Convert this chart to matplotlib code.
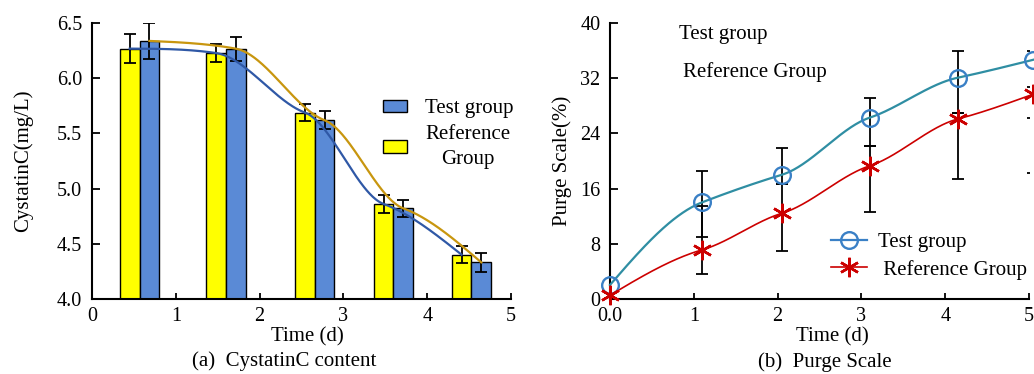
import numpy as np
import matplotlib
matplotlib.use("Agg")
import matplotlib.pyplot as plt
from matplotlib.lines import Line2D
from matplotlib.patches import Patch

plt.rcParams["font.family"] = ["Liberation Serif", "DejaVu Serif"]

# ---------------- (a) CystatinC content ----------------
ref_x = [0.45, 1.48, 2.54, 3.48, 4.41]          # reference-group bar centres (d)
test_x = [0.685, 1.715, 2.775, 3.715, 4.645]    # test-group bar centres (d)
ref_cys = [6.27, 6.23, 5.69, 4.86, 4.40]
ref_cys_err = [0.13, 0.08, 0.08, 0.08, 0.08]
test_cys = [6.34, 6.27, 5.62, 4.82, 4.33]
test_cys_err = [0.16, 0.11, 0.08, 0.08, 0.085]

# ---------------- (b) Purge Scale ----------------
days = [0.0, 1.1, 2.05, 3.1, 4.15, 5.05]
test_purge = [2.0, 14.0, 18.0, 26.3, 32.1, 34.7]
test_err_lo = [0.0, 5.1, 1.34, 4.1, 5.1, 8.4]
test_err_hi = [0.0, 4.5, 3.85, 2.8, 3.9, 1.3]
ref_purge = [0.5, 7.1, 12.4, 19.3, 26.1, 29.7]
ref_err_lo = [0.0, 3.5, 5.47, 6.7, 8.7, 11.4]
ref_err_hi = [0.0, 6.3, 4.26, 2.9, 0.9, 1.0]

x_ticks = [0, 1, 2, 3, 4, 5]


def smooth(x, y, k, n=80):
    """Cubic Hermite curve through (x, y) with damped finite-difference tangents."""
    x = np.asarray(x, float)
    y = np.asarray(y, float)
    s = np.diff(y) / np.diff(x)
    m = np.empty_like(y)
    m[1:-1] = k * (y[2:] - y[:-2]) / (x[2:] - x[:-2])
    m[0] = 1.5 * s[0] - 0.5 * m[1]
    m[-1] = 1.5 * s[-1] - 0.5 * m[-2]
    xs, ys = [], []
    for i in range(len(x) - 1):
        h = x[i + 1] - x[i]
        t = np.linspace(0, 1, n, endpoint=(i == len(x) - 2))
        h00 = 2 * t**3 - 3 * t**2 + 1
        h10 = t**3 - 2 * t**2 + t
        h01 = -2 * t**3 + 3 * t**2
        h11 = t**3 - t**2
        xs.append(x[i] + t * h)
        ys.append(h00 * y[i] + h10 * h * m[i] + h01 * y[i + 1] + h11 * h * m[i + 1])
    return np.concatenate(xs), np.concatenate(ys)


def style_axes(ax):
    for side in ("top", "right"):
        ax.spines[side].set_visible(False)
    for side in ("left", "bottom"):
        ax.spines[side].set_linewidth(1.5)
    ax.tick_params(direction="in", width=1.3, labelsize=14.5)
    ax.tick_params(axis="y", length=6, pad=7)
    ax.tick_params(axis="x", length=4.5, pad=6)


W, H = 1034, 374
fig = plt.figure(figsize=(W / 100, H / 100), dpi=100)

# ----- panel (a) -----
ax1 = fig.add_axes([92 / W, (H - 298.7) / H, 419 / W, 275.4 / H])
bar_w = 0.235
yellow = "#ffff00"
bar_blue = "#5a8ad6"
err_kw = dict(ecolor="black", elinewidth=1.3, capsize=4.6, capthick=1.3)
ax1.bar(ref_x, ref_cys, width=bar_w, color=yellow, edgecolor="black",
        linewidth=1.0, yerr=ref_cys_err, error_kw=err_kw, zorder=2)
ax1.bar(test_x, test_cys, width=bar_w, color=bar_blue, edgecolor="black",
        linewidth=1.0, yerr=test_cys_err, error_kw=err_kw, zorder=2)
sx, sy = smooth(ref_x, ref_cys, 0.4)
ax1.plot(sx, sy, color="#2f58a6", lw=1.6, zorder=4)
sx, sy = smooth(test_x, test_cys, 0.4)
ax1.plot(sx, sy, color="#c8960f", lw=1.6, zorder=4)
ax1.set_xlim(0, 5)
ax1.set_ylim(4.0, 6.5)
ax1.set_xticks(x_ticks)
ax1.set_xticklabels([str(v) for v in x_ticks])
ax1.set_yticks([4.0, 4.5, 5.0, 5.5, 6.0, 6.5])
ax1.set_yticklabels(["4.0", "4.5", "5.0", "5.5", "6.0", "6.5"])
style_axes(ax1)
ax1.set_ylabel("CystatinC(mg/L)", fontsize=15, labelpad=17)
ax1.text((307 - 92) / 419, -(337 - 298.7) / 275.4, "Time (d)", fontsize=15,
         ha="center", va="center", transform=ax1.transAxes)
fig.text(284 / W, 1 - 361 / H, "(a)  CystatinC content", fontsize=15,
         ha="center", va="center")
leg1 = ax1.legend(
    handles=[Patch(facecolor=bar_blue, edgecolor="black", linewidth=1.0),
             Patch(facecolor=yellow, edgecolor="black", linewidth=1.0)],
    labels=["Test group", "Reference\nGroup"],
    loc="upper left", bbox_to_anchor=(375 / W, 1 - 91 / H),
    bbox_transform=fig.transFigure, frameon=False, fontsize=15,
    handlelength=1.15, handleheight=0.55, handletextpad=0.85,
    labelspacing=0.3, borderaxespad=0)
for t in leg1.get_texts():
    t.set_multialignment("center")
    t.set_linespacing(1.45)

# ----- panel (b) -----
ax2 = fig.add_axes([610 / W, (H - 298.7) / H, 419 / W, 275.4 / H])
teal = "#2f8ea3"
circ_blue = "#3a80c6"
red = "#cc0000"
sx, sy = smooth(days, test_purge, 0.6)
ax2.plot(sx, sy, color=teal, lw=1.6, zorder=3, clip_on=False)
sx, sy = smooth(days, ref_purge, 0.6)
ax2.plot(sx, sy, color=red, lw=1.2, zorder=3, clip_on=False)
eb_kw = dict(fmt="none", ecolor="black", elinewidth=1.3, capsize=4.3,
             capthick=1.3, errorevery=(1, 1), zorder=2)
ax2.errorbar(days, test_purge, yerr=[test_err_lo, test_err_hi], **eb_kw)
ax2.errorbar(days, ref_purge, yerr=[ref_err_lo, ref_err_hi], **eb_kw)
ax2.plot(days, test_purge, ls="none", marker="o", ms=12, mfc="none",
         mec=circ_blue, mew=1.7, zorder=5, clip_on=False)
ax2.plot(days, ref_purge, ls="none", marker=(6, 2, 0), ms=14, mec=red,
         mew=1.8, zorder=5, clip_on=False)
ax2.set_xlim(0, 5)
ax2.set_ylim(0, 40)
ax2.set_xticks(x_ticks)
ax2.set_xticklabels(["0.0"] + [str(v) for v in x_ticks[1:]])
ax2.set_yticks([0, 8, 16, 24, 32, 40])
style_axes(ax2)
ax2.set_ylabel("Purge Scale(%)", fontsize=15, labelpad=6)
ax2.text((832 - 610) / 419, -(337 - 298.7) / 275.4, "Time (d)", fontsize=15,
         ha="center", va="center", transform=ax2.transAxes)
fig.text(825 / W, 1 - 362 / H, "(b)  Purge Scale", fontsize=15,
         ha="center", va="center")
fig.text(679 / W, 1 - 34 / H, "Test group", fontsize=15, ha="left", va="center")
fig.text(683 / W, 1 - 72 / H, "Reference Group", fontsize=15, ha="left",
         va="center")
leg2 = ax2.legend(
    handles=[Line2D([], [], color=circ_blue, lw=1.6, marker="o", ms=12,
                    mfc="none", mec=circ_blue, mew=1.7),
             Line2D([], [], color=red, lw=1.2, marker=(6, 2, 0), ms=14,
                    mec=red, mew=1.8)],
    labels=["Test group", " Reference Group"],
    loc="upper left", bbox_to_anchor=(823 / W, 1 - 224 / H),
    bbox_transform=fig.transFigure, frameon=False, fontsize=15,
    handlelength=1.7, handletextpad=0.55, labelspacing=0.38, borderaxespad=0,
    numpoints=1)

fig.savefig("out.png", dpi=100)
